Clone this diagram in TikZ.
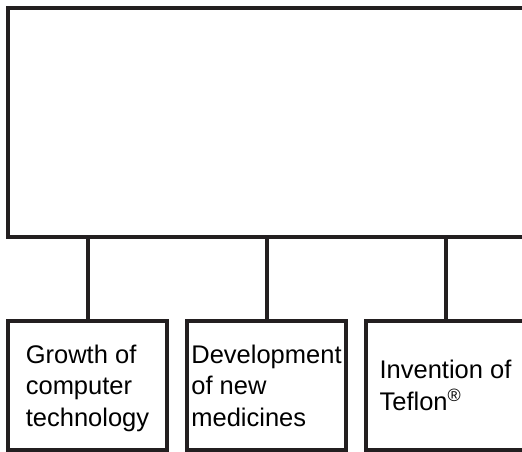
\documentclass[tikz,border=0pt]{standalone}
\usepackage{fontspec}
\setmainfont{Liberation Sans}
\usetikzlibrary{positioning}

\definecolor{inkblack}{RGB}{35,31,32}

\tikzset{
  frame/.style={draw=inkblack, line width=4pt, rectangle, inner sep=0pt, outer sep=0pt},
  itembox/.style={frame, minimum width=159pt, minimum height=129pt, align=left,
    text depth=0pt, font=\fontsize{25.5}{31.5}\selectfont},
  stem/.style={draw=inkblack, line width=4pt}
}

\begin{document}
\begin{tikzpicture}[x=1pt,y=1pt]

\clip (0,0) rectangle (522,452);

% the wide box on top, running off the right edge
\node[frame, minimum width=560pt, minimum height=229pt, anchor=north west] (topbox) at (8,444) {};

\node[itembox, anchor=north west] (growth) at (8,131) {Growth of\\computer\\technology};
\node[itembox, right=20pt of growth] (medicine) {Development\\of new\\medicines};
\node[itembox, right=20pt of medicine] (teflon) {Invention of\\Teflon\textsuperscript{\textregistered}};

\draw[stem] (growth.north) -- (growth.north |- topbox.south);
\draw[stem] (medicine.north) -- (medicine.north |- topbox.south);
\draw[stem] (teflon.north) -- (teflon.north |- topbox.south);

\end{tikzpicture}
\end{document}
